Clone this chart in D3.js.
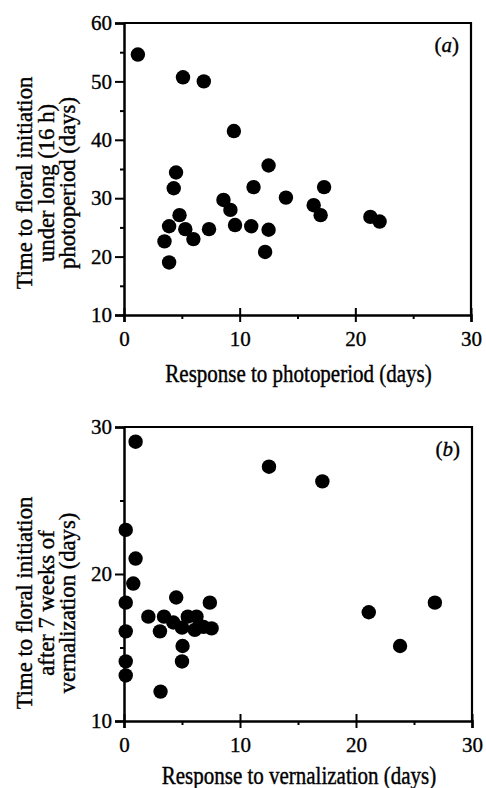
<!DOCTYPE html>
<html>
<head>
<meta charset="utf-8">
<script src="https://cdn.jsdelivr.net/npm/d3@7/dist/d3.min.js"></script>
<style>
  body { margin: 0; background: #fff; }
  text { font-family: "Liberation Serif", "Times New Roman", serif; fill: #000; stroke: #000; stroke-width: 0.35px; }
</style>
</head>
<body>
<svg id="chart" width="486" height="788"></svg>
<script>
// panel (a): response to photoperiod vs time to floral initiation under 16 h
var photoResponse = [1.2, 5.1, 6.9, 9.5, 4.5, 4.3, 12.5, 11.2, 14.0, 17.3, 16.4, 17.0, 21.3, 22.1,
                     8.6, 9.2, 9.6, 11.0, 12.5, 12.2, 4.8, 3.9, 3.5, 3.9, 5.3, 6.0, 7.35];
var photoTime     = [54.6, 50.7, 50.0, 41.5, 34.4, 31.7, 35.6, 31.9, 30.1, 31.9, 28.8, 27.1, 26.8, 26.0,
                     29.7, 28.0, 25.4, 25.2, 24.6, 20.8, 27.1, 25.2, 22.6, 19.0, 24.7, 23.0, 24.7];

// panel (b): response to vernalization vs time after 7 weeks of vernalization
var vernResponse = [1.0, 12.5, 17.1, 0.15, 1.0, 0.8, 0.15, 0.15, 0.15, 0.15, 3.15, 4.5, 7.4,
                    2.1, 3.45, 3.1, 4.25, 5.0, 5.5, 6.25, 6.1, 6.85, 7.55, 5.05, 5.0, 21.1, 23.8, 26.8];
var vernTime     = [29.0, 27.3, 26.3, 23.0, 21.05, 19.35, 18.05, 16.1, 14.05, 13.1, 12.0, 18.4, 18.05,
                    17.1, 17.1, 16.1, 16.7, 16.35, 17.1, 17.1, 16.2, 16.4, 16.3, 15.1, 14.05, 17.4, 15.1, 18.05];

var xMajor  = [0, 10, 20, 30];
var xMinor  = [5, 15, 25];
var yMajorA = [10, 20, 30, 40, 50, 60];
var yMinorA = [15, 25, 35, 45, 55];
var yMajorB = [10, 20, 30];
var yMinorB = [15, 25];

var svg = d3.select("#chart");

function drawPanel(p) {
  var g = svg.append("g");
  var x = d3.scaleLinear().domain([0, 30]).range([p.left, p.right]);
  var y = d3.scaleLinear().domain(p.ydomain).range([p.bottom, p.top]);

  // frame: top and right
  g.append("path")
    .attr("d", "M" + p.left + "," + p.top + "H" + p.right + "V" + p.bottom)
    .attr("fill", "none").attr("stroke", "#000").attr("stroke-width", 2.2);

  // x axis
  var xa = g.append("g").attr("transform", "translate(0," + p.bottom + ")")
    .call(d3.axisBottom(x).tickValues(xMajor).tickSize(7).tickPadding(9).tickFormat(d3.format("d")));
  xa.selectAll(".tick line").attr("y1", -7).attr("stroke-width", 2);
  var xm = g.append("g").attr("transform", "translate(0," + p.bottom + ")")
    .call(d3.axisBottom(x).tickValues(xMinor).tickSize(4).tickFormat(""));
  xm.select(".domain").remove();
  xm.selectAll(".tick line").attr("stroke-width", 2);

  // y axis
  var ya = g.append("g").attr("transform", "translate(" + p.left + ",0)")
    .call(d3.axisLeft(y).tickValues(p.ymajor).tickSize(9).tickPadding(3).tickFormat(d3.format("d")));
  ya.selectAll(".tick line").attr("x1", 0).attr("x2", -9).attr("stroke-width", 2);
  var ym = g.append("g").attr("transform", "translate(" + p.left + ",0)")
    .call(d3.axisLeft(y).tickValues(p.yminor).tickSize(4).tickFormat(""));
  ym.select(".domain").remove();
  ym.selectAll(".tick line").attr("stroke-width", 2);

  g.selectAll(".domain").attr("stroke-width", 2.5);
  g.selectAll(".tick text").attr("font-size", 21).attr("font-family", "Liberation Serif");

  // points
  g.append("g").selectAll("circle")
    .data(d3.zip(p.xs, p.ys))
    .join("circle")
    .attr("cx", function(d) { return x(d[0]); })
    .attr("cy", function(d) { return y(d[1]); })
    .attr("r", 7.2)
    .attr("fill", "#000");

  // panel letter
  var lab = g.append("text")
    .attr("x", p.right - 12).attr("y", p.top + 29)
    .attr("text-anchor", "end").attr("font-size", 21);
  lab.append("tspan").text("(");
  lab.append("tspan").attr("font-style", "italic").text(p.letter);
  lab.append("tspan").text(")");

  // x title
  g.append("text")
    .attr("transform", "translate(" + ((p.left + p.right) / 2 + 1) + "," + p.xtitleY + ") scale(1,1.15)")
    .attr("text-anchor", "middle").attr("font-size", 21)
    .text(p.xtitle);

  // y title, three lines
  var cy = p.ytitleCenter;
  p.ytitle.forEach(function(line, i) {
    g.append("text")
      .attr("transform", "translate(" + (32 + i * 21.5) + "," + cy + ") rotate(-90) scale(1.08,1.05)")
      .attr("text-anchor", "middle").attr("font-size", 21)
      .text(line);
  });
}

drawPanel({
  left: 124, right: 471, top: 23, bottom: 315,
  ydomain: [10, 60], ymajor: yMajorA, yminor: yMinorA,
  xs: photoResponse, ys: photoTime, letter: "a",
  xtitle: "Response to photoperiod (days)", xtitleY: 382,
  ytitle: ["Time to floral initiation", "under long (16 h)", "photoperiod (days)"],
  ytitleCenter: 183
});

drawPanel({
  left: 124, right: 472, top: 427, bottom: 721,
  ydomain: [10, 30], ymajor: yMajorB, yminor: yMinorB,
  xs: vernResponse, ys: vernTime, letter: "b",
  xtitle: "Response to vernalization (days)", xtitleY: 784,
  ytitle: ["Time to floral initiation", "after 7 weeks of", "vernalization (days)"],
  ytitleCenter: 603
});
</script>
</body>
</html>
